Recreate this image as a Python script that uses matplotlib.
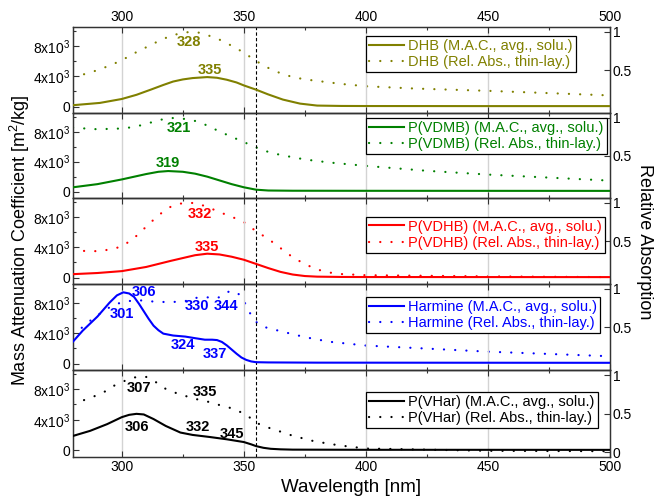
import numpy as np
import matplotlib
matplotlib.use("Agg")
import matplotlib.pyplot as plt
from matplotlib.ticker import FixedLocator, FixedFormatter

plt.rcParams['font.family'] = ['Liberation Sans', 'DejaVu Sans']
plt.rcParams['mathtext.fontset'] = 'custom'
plt.rcParams['mathtext.rm'] = 'Liberation Sans'
plt.rcParams['mathtext.it'] = 'Liberation Sans:italic'
plt.rcParams['mathtext.bf'] = 'Liberation Sans:bold'

# ---------------- data ----------------
names = ["DHB", "P(VDMB)", "P(VDHB)", "Harmine", "P(VHar)"]
colors = ["#808000", "#008000", "#ff0000", "#0000ff", "#000000"]

# solid: mass attenuation coefficient (left axis, m^2/kg)
wl_dhb_s = [280, 291, 300, 306, 312, 317, 321, 325, 329, 335, 339, 343, 347, 350, 355, 360, 366, 373, 380, 390, 400, 450, 500]
mac_dhb = [180, 480, 1000, 1550, 2250, 2850, 3300, 3580, 3760, 3890, 3800, 3540, 3180, 2790, 2230, 1600, 920, 390, 130, 80, 70, 60, 60]
# dotted: relative absorption (right axis)
wl_dhb_d = [280, 285, 290, 295, 300, 305, 310, 315, 320, 325, 328, 332, 335, 340, 345, 350, 355, 360, 365, 370, 375, 380, 390, 400, 420, 450, 475, 500]
rel_dhb = [0.42, 0.45, 0.50, 0.56, 0.63, 0.72, 0.80, 0.88, 0.95, 0.99, 1.00, 0.99, 0.96, 0.90, 0.82, 0.73, 0.62, 0.53, 0.46, 0.41, 0.38, 0.36, 0.32, 0.29, 0.26, 0.23, 0.20, 0.17]

wl_vdmb_s = [280, 290, 300, 310, 315, 319, 325, 330, 335, 340, 345, 350, 355, 360, 370, 400, 500]
mac_vdmb = [580, 1000, 1630, 2350, 2650, 2750, 2650, 2400, 2000, 1500, 1000, 580, 260, 150, 120, 110, 100]
wl_vdmb_d = [280, 285, 290, 295, 300, 305, 310, 315, 320, 325, 330, 335, 340, 345, 350, 355, 360, 365, 370, 375, 380, 385, 400, 425, 450, 475, 500]
rel_vdmb = [0.87, 0.86, 0.85, 0.855, 0.86, 0.88, 0.92, 0.97, 1.00, 0.99, 0.96, 0.90, 0.82, 0.75, 0.68, 0.61, 0.55, 0.51, 0.48, 0.45, 0.43, 0.41, 0.365, 0.30, 0.25, 0.21, 0.17]

wl_vdhb_s = [280, 290, 300, 310, 320, 330, 335, 340, 345, 350, 355, 360, 365, 370, 375, 380, 390, 400, 500]
mac_vdhb = [450, 600, 850, 1400, 2200, 2950, 3150, 3050, 2750, 2350, 1800, 1250, 750, 400, 200, 120, 80, 70, 60]
wl_vdhb_d = [280, 285, 290, 295, 300, 305, 310, 315, 320, 325, 330, 335, 340, 345, 350, 355, 360, 365, 370, 375, 380, 385, 390, 400, 450, 500]
rel_vdhb = [0.40, 0.37, 0.37, 0.39, 0.43, 0.54, 0.69, 0.84, 0.95, 1.00, 1.00, 0.95, 0.88, 0.82, 0.75, 0.63, 0.53, 0.41, 0.29, 0.20, 0.13, 0.09, 0.07, 0.055, 0.04, 0.03]

wl_harm_s = [280, 284, 290, 295, 298, 300.6, 303, 305, 307, 309, 311, 313, 315, 317, 321, 326, 330, 334, 337, 339, 341, 343, 345, 347, 349, 351, 353, 355, 360, 380, 500]
mac_harm = [2900, 4350, 6200, 8050, 9000, 9400, 9250, 8800, 7900, 6900, 5900, 5000, 4400, 3950, 3700, 3560, 3350, 3150, 3150, 3100, 2850, 2400, 1850, 1300, 800, 480, 280, 180, 150, 120, 100]
wl_harm_d = [280, 283.5, 286, 292, 296.5, 300.6, 304.7, 309, 313, 317, 321, 326, 329, 333, 336, 339, 341.5, 344, 346, 348, 350, 351.5, 353, 355, 357.5, 361, 366, 375, 385, 400, 425, 450, 475, 500]
rel_harm = [0.40, 0.49, 0.56, 0.70, 0.79, 0.83, 0.85, 0.85, 0.835, 0.83, 0.83, 0.84, 0.88, 0.89, 0.89, 0.88, 0.915, 0.97, 0.97, 0.93, 0.84, 0.76, 0.65, 0.57, 0.51, 0.48, 0.44, 0.37, 0.31, 0.26, 0.22, 0.18, 0.15, 0.12]

wl_vhar_s = [280, 287, 294, 300, 303, 306, 309, 313, 318, 324, 329, 336, 343, 350, 353, 355, 358, 361, 365, 370, 400, 500]
mac_vhar = [1900, 2560, 3440, 4350, 4650, 4780, 4700, 4100, 3200, 2340, 2030, 1760, 1460, 1100, 800, 570, 350, 220, 150, 110, 90, 80]
wl_vhar_d = [280, 284, 288, 294, 297, 300.6, 304, 307, 310, 312, 315, 318, 322, 325, 329, 333, 336, 339.5, 343.5, 347, 350.5, 353, 356, 359, 362, 370, 378, 385, 390, 400, 450, 500]
rel_vhar = [0.65, 0.67, 0.715, 0.80, 0.865, 0.917, 0.96, 0.98, 0.975, 0.94, 0.89, 0.82, 0.77, 0.74, 0.70, 0.67, 0.65, 0.616, 0.586, 0.54, 0.50, 0.435, 0.37, 0.33, 0.30, 0.215, 0.15, 0.11, 0.087, 0.05, 0.02, 0.015]

solid_x = [wl_dhb_s, wl_vdmb_s, wl_vdhb_s, wl_harm_s, wl_vhar_s]
solid_y = [mac_dhb, mac_vdmb, mac_vdhb, mac_harm, mac_vhar]
dot_x = [wl_dhb_d, wl_vdmb_d, wl_vdhb_d, wl_harm_d, wl_vhar_d]
dot_y = [rel_dhb, rel_vdmb, rel_vdhb, rel_harm, rel_vhar]

# peak labels: (text, x-centre [nm], y-centre [left axis units])
peak_labels = [
    [("328", 327.5, 8500), ("335", 336, 4850)],
    [("321", 323.4, 8450), ("319", 318.8, 3760)],
    [("332", 332, 8450), ("335", 335, 4010)],
    [("306", 309, 9450), ("301", 300, 6500), ("330", 330.7, 7550), ("344", 342.5, 7550),
     ("324", 325, 2450), ("337", 338, 1250)],
    [("307", 307.2, 8200), ("335", 334, 7600), ("306", 306.4, 3100), ("332", 331, 3100), ("345", 345, 2100)],
]
legend_tops = [0.895, 0.938, 0.783, 0.845, 0.744]

xticks_major = [300, 350, 400, 450, 500]
xticks_minor = [325, 375, 425, 475]
left_ticks = [0, 4000, 8000]
left_ticklabels = ["0", "4x10$^3$", "8x10$^3$"]
left_minor = [2000, 6000, 10000]
marker_wl = 355

# ---------------- figure ----------------
W, H = 654, 499
fig = plt.figure(figsize=(W / 100, H / 100), dpi=100)
left_px, right_px = 73, 610
bounds = [27, 113, 198, 284, 370, 457]
spine_c = "#333333"

for i in range(5):
    top, bot = bounds[i], bounds[i + 1]
    ax = fig.add_axes([left_px / W, 1 - bot / H, (right_px - left_px) / W, (bot - top) / H])
    ax2 = ax.twinx()
    ax.set_xlim(280, 500)
    ax.set_ylim(-850, 10500)
    ax2.set_ylim(-0.06, 1.065)
    for x in xticks_major[:-1]:
        ax.axvline(x, color="#d3d3d3", lw=1.0, zorder=0)
    ax.axvline(marker_wl, color="black", lw=0.8, ls=(0, (3, 2)), zorder=1)
    ln1, = ax.plot(solid_x[i], solid_y[i], color=colors[i], lw=1.5, zorder=3)
    ln2, = ax2.plot(dot_x[i], dot_y[i], color=colors[i], lw=1.6, ls=(0, (0.05, 5.0)),
                    dash_capstyle='round', zorder=3)
    for (t, x, y) in peak_labels[i]:
        ax.text(x, y, t, color=colors[i], fontsize=10.5, fontweight='bold',
                ha='center', va='center', zorder=4)
    # ticks
    ax.xaxis.set_major_locator(FixedLocator(xticks_major))
    ax.xaxis.set_minor_locator(FixedLocator(xticks_minor))
    ax.yaxis.set_major_locator(FixedLocator(left_ticks))
    ax.yaxis.set_major_formatter(FixedFormatter(left_ticklabels))
    ax.yaxis.set_minor_locator(FixedLocator(left_minor))
    ax.tick_params(axis='both', which='both', direction='in', top=True, bottom=True,
                   labelsize=10, colors='black', pad=2)
    ax.tick_params(axis='both', which='major', length=4, width=0.8, color=spine_c)
    ax.tick_params(axis='both', which='minor', length=2.5, width=0.8, color=spine_c)
    ax.tick_params(axis='x', labelbottom=(i == 4), labeltop=(i == 0))
    rt = [0.5, 1] if i < 4 else [0, 0.5, 1]
    ax2.yaxis.set_major_locator(FixedLocator(rt))
    ax2.yaxis.set_major_formatter(FixedFormatter([("%g" % v) for v in rt]))
    ax2.tick_params(axis='y', which='major', direction='in', length=4, width=0.8,
                    color=spine_c, labelsize=10, pad=2)
    for a in (ax, ax2):
        for s in a.spines.values():
            s.set_color(spine_c)
            s.set_linewidth(0.9)
    ax.set_zorder(ax2.get_zorder() + 1)
    ax.patch.set_visible(False)
    leg = ax.legend([ln1, ln2],
                    [f"{names[i]} (M.A.C., avg., solu.)", f"{names[i]} (Rel. Abs., thin-lay.)"],
                    loc='upper left', bbox_to_anchor=(0.5456, legend_tops[i]),
                    fontsize=10.5, frameon=True, fancybox=False, framealpha=1,
                    edgecolor='black', borderaxespad=0, borderpad=0.2,
                    handlelength=2.4, handletextpad=0.3, labelspacing=0.15)
    leg.get_frame().set_linewidth(0.9)
    for t in leg.get_texts():
        t.set_color(colors[i])

fig.text(20 / W, 1 - 240 / H, "Mass Attenuation Coefficient [m$^2$/kg]", rotation=90,
         ha='center', va='center', fontsize=13)
fig.text(645 / W, 1 - 242 / H, "Relative Absorption", rotation=270,
         ha='center', va='center', fontsize=13)
fig.text(351 / W, 1 - 487 / H, "Wavelength [nm]", ha='center', va='center', fontsize=13.5)

fig.savefig("out.png", dpi=100)
